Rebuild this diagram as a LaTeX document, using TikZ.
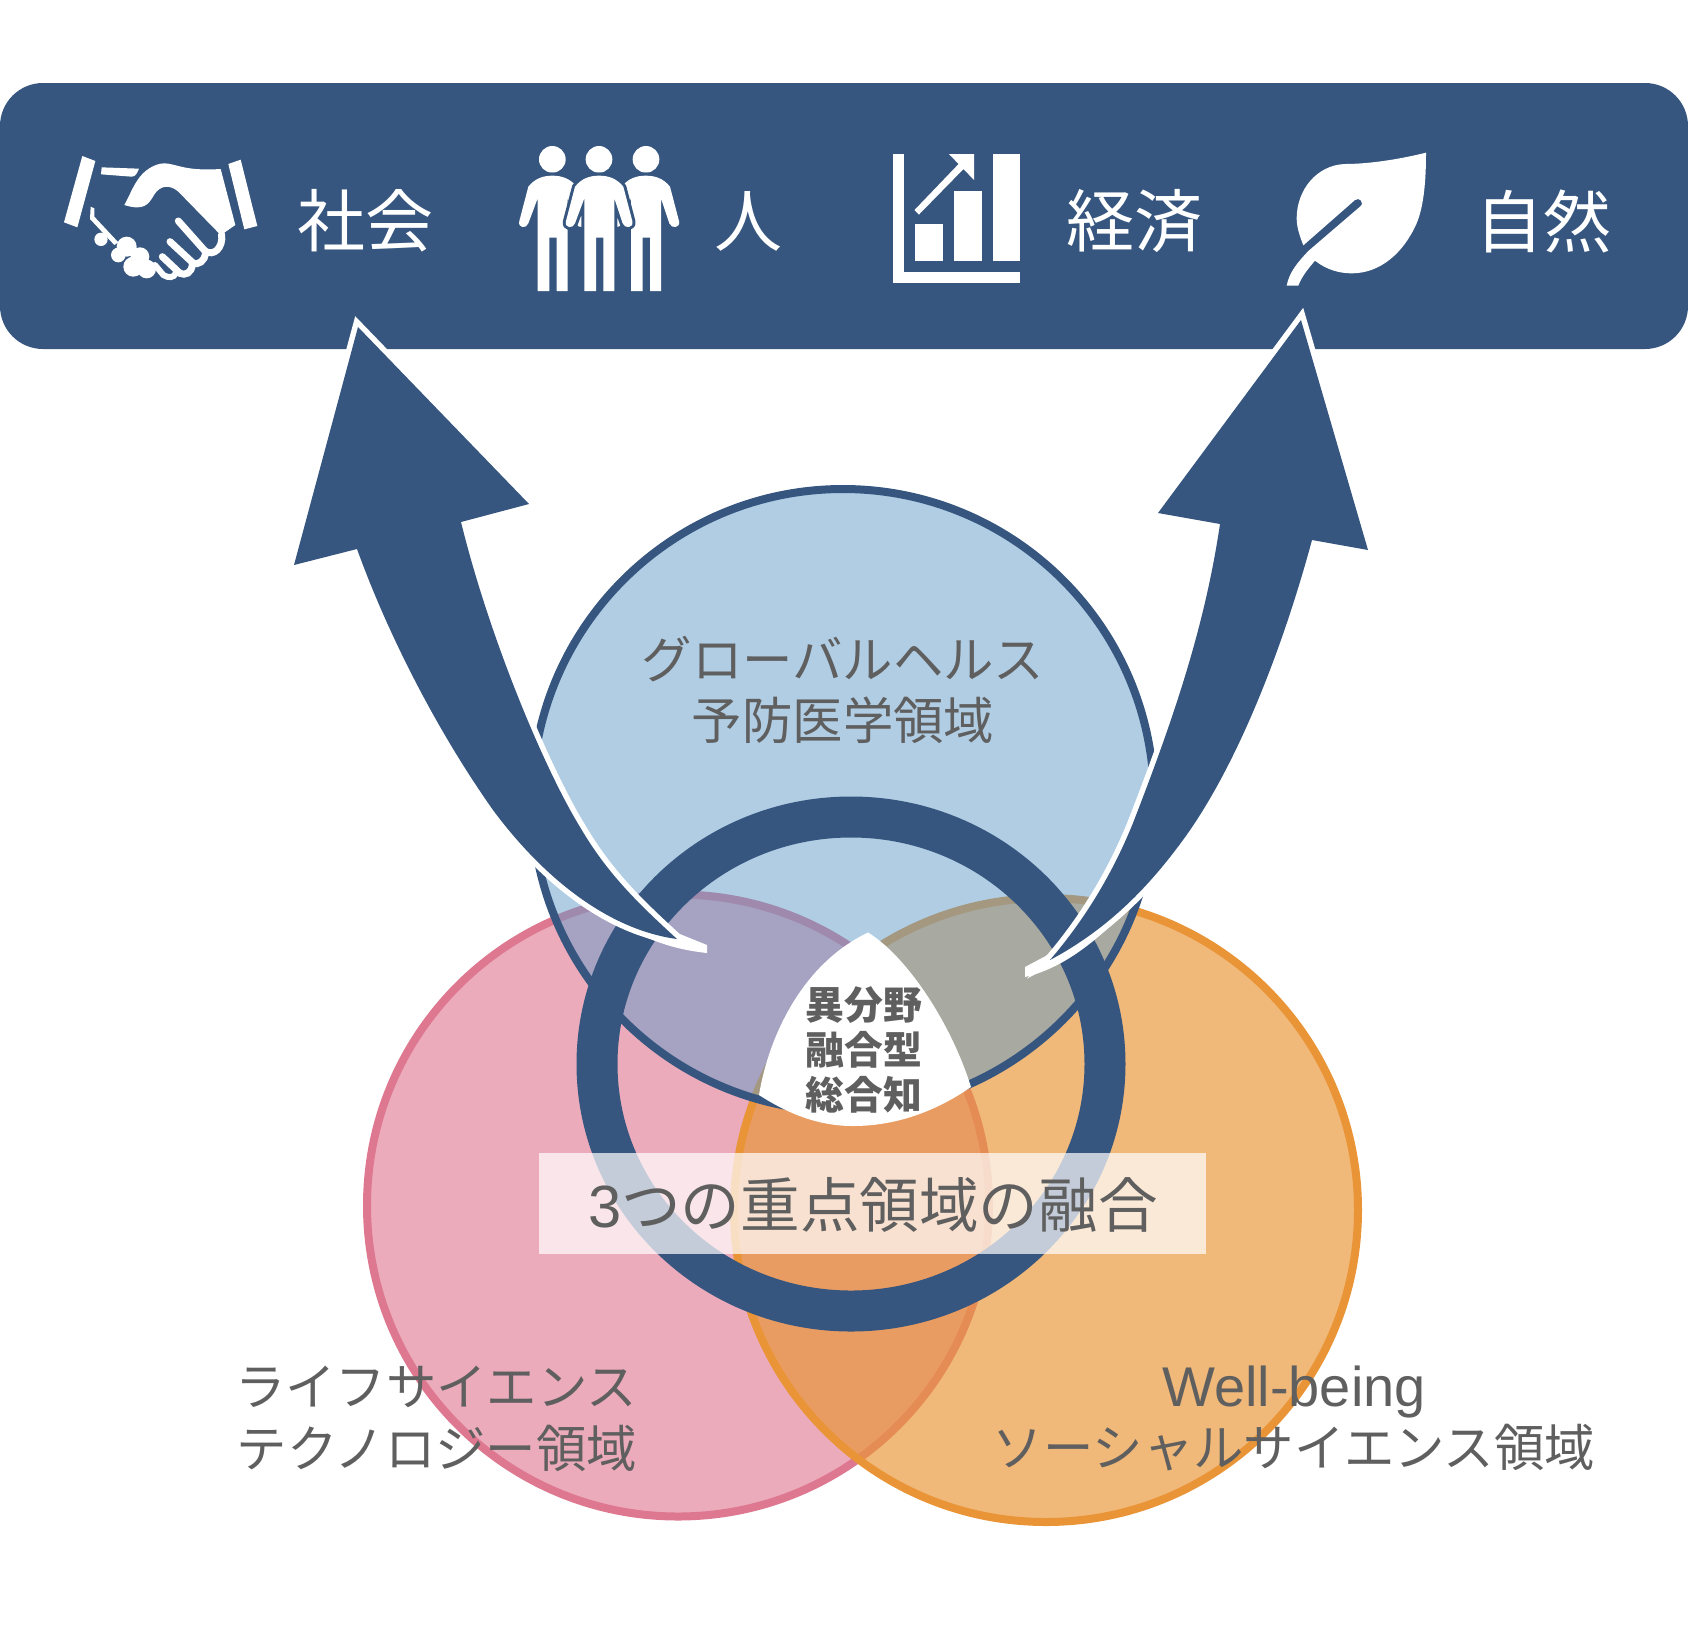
\documentclass[tikz,border=0pt]{standalone}
\usepackage{fontspec}
\usepackage{color}
\setmainfont{Noto Sans CJK JP}
\newfontfamily\latinfont{Liberation Sans}
\definecolor{bandblue}{HTML}{36567F}
\definecolor{areablue}{HTML}{619BC9}
\definecolor{pinkline}{HTML}{DE7890}
\definecolor{pinkfill}{HTML}{EBABBB}
\definecolor{orangeline}{HTML}{E99537}
\definecolor{textgray}{HTML}{5F5F5F}
\tikzset{
    bandtext/.style={text=white,inner sep=0pt,font=\fontsize{34pt}{36pt}\selectfont},
    areatext/.style={text=textgray,inner sep=0pt,font=\fontsize{25.2pt}{28pt}\selectfont},
    coretext/.style={text=textgray,inner sep=0pt,font=\fontsize{19.4pt}{22pt}\selectfont\bfseries},
    bigarrow/.style={fill=bandblue,preaction={draw=white,line width=5.5pt}},
    figure/.style={fill=white,preaction={draw=bandblue,line width=3pt,line join=round}},
}
\begin{document}
\begin{tikzpicture}[x=.5pt,y=-.5pt]
    \useasboundingbox (0,0) rectangle (1688,1635);

    \fill[bandblue,rounded corners=21.5pt] (0,83) rectangle (1688,349);

    \begin{scope}[shift={(55,145)},scale=1/3]
        \fill[white] (82,33) -- (121,48) -- (67,247) -- (27,232) -- cycle;
        \fill[white] (520,57) -- (557,44) -- (607,243) -- (568,253) -- cycle;
        \fill[white] (140,67) -- (252,71) .. controls (246,85) and (242,95) .. (230,95) -- (138,88) -- cycle;
        \fill[white] (208,180) .. controls (225,150) and (232,125) .. (255,95)
            .. controls (275,70) and (310,50) .. (340,56)
            .. controls (375,62) and (400,78) .. (497,72) -- (541,240) -- (505,265)
            -- (495,268) -- (370,140) .. controls (345,118) and (315,120) .. (297,150)
            .. controls (280,180) and (265,198) .. (208,180) -- cycle;
        \draw[white,line width=3.5pt,line cap=round] (370,228) -- (450,318)
            .. controls (475,335) and (505,310) .. (500,268);
        \draw[white,line width=3.5pt,line cap=round] (345,290) -- (412,352)
            .. controls (430,365) and (450,345) .. (452,325);
        \draw[white,line width=3.5pt,line cap=round] (322,335) -- (375,385)
            .. controls (390,392) and (410,385) .. (412,358);
        \draw[white,line width=3pt,line cap=round] (300,360) -- (325,390)
            .. controls (340,400) and (358,398) .. (362,385);
        \fill[white] (107,185) -- (118,190) -- (118,215) -- (190,292) -- (178,300) -- (105,222) -- cycle;
        \foreach \x/\y/\r in {138/283/20,215/305/30,190/330/22,255/335/28,235/365/30,275/372/28}
            \fill[white] (\x,\y) circle (\r);
    \end{scope}

    \begin{scope}[shift={(510,135)},scale=1/3]
        \foreach \x in {127,267,408} \fill[white] (\x,73) circle (40);
        \foreach \x in {-140,140,0}
            \path[figure,shift={(\x,0)}] (223,468) -- (223,190) -- (195,265)
                .. controls (190,282) and (162,280) .. (168,258) -- (195,155)
                .. controls (215,130) and (240,122) .. (267,122)
                .. controls (295,122) and (320,130) .. (340,155) -- (367,258)
                .. controls (372,280) and (344,282) .. (338,265) -- (313,190)
                -- (313,468) -- (280,468) -- (280,308) -- (258,308) -- (258,468) -- cycle;
    \end{scope}

    \fill[white] (893,154) rectangle (904,272);
    \fill[white] (893,272) rectangle (1020,283);
    \foreach \x/\y in {915/224,954/191,992.5/154} \fill[white] (\x,\y) rectangle (\x+27.5,261);
    \fill[white] (914.5,210) -- (958.6,164) -- (949,154) -- (974,154) -- (974,180) -- (963.5,169) -- (919,214.5) -- cycle;

    \begin{scope}[shift={(1270,140)},scale=1/3]
        \fill[white] (468,38) .. controls (380,60) and (290,72) .. (225,72)
            .. controls (140,75) and (80,150) .. (80,235)
            .. controls (80,265) and (92,295) .. (100,316) -- (255,180)
            .. controls (268,170) and (285,188) .. (270,200) -- (115,333)
            .. controls (85,365) and (58,395) .. (50,437) -- (85,437)
            .. controls (95,410) and (115,385) .. (135,362)
            .. controls (170,390) and (210,400) .. (245,400)
            .. controls (330,400) and (400,340) .. (440,250)
            .. controls (465,190) and (468,100) .. (468,38) -- cycle;
    \end{scope}

    \node[bandtext] (society) at (365,221) {社会};
    \node[bandtext] (people) at (748,221) {人};
    \node[bandtext] (economy) at (1134,221) {経済};
    \node[bandtext] (nature) at (1543,221) {自然};

    \draw[pinkline,fill=pinkfill,line width=4pt] (678,1205.5) circle (311);
    \draw[orangeline,line width=4pt,fill=orangeline,fill opacity=.67] (1046,1210) circle (312);
    \draw[bandblue,fill=areablue,fill opacity=.5,line width=4pt] (843,800) circle (311);

    \fill[white] (868,932.5) .. controls (905,955) and (950,1020) .. (971,1087)
        .. controls (935,1112) and (895,1126) .. (853,1126)
        .. controls (820,1126) and (790,1115) .. (759,1095)
        .. controls (768,1040) and (800,965) .. (868,932.5) -- cycle;

    \draw[bandblue,line width=20.5pt] (851,1064) ellipse (254 and 247);

    \fill[white] (670,930) -- (707,945) -- (707,953) .. controls (670,949) and (640,938) .. (600,912) -- cycle;
    \path[bigarrow] (358,327) -- (529,504) -- (461,522)
        .. controls (490,640) and (545,770) .. (580,827)
        .. controls (608,875) and (640,905) .. (677,939)
        .. controls (610,930) and (545,880) .. (493,810)
        .. controls (440,735) and (390,640) .. (357,549)
        -- (294,565) -- cycle;

    \fill[white] (1057,950) -- (1025,967) -- (1025,977) .. controls (1055,970) and (1085,952) .. (1125,912) -- cycle;
    \path[bigarrow] (1301,320) -- (1368,550) -- (1312,540)
        .. controls (1285,640) and (1240,762) .. (1183,840)
        .. controls (1150,885) and (1110,928) .. (1050,960)
        .. controls (1080,925) and (1110,880) .. (1133,823)
        .. controls (1175,715) and (1205,625) .. (1220,524)
        -- (1158,513) -- cycle;

    \fill[white,opacity=.7] (539,1153) rectangle (1206,1254);

    \node[areatext] (global1) at (843,659) {グローバルヘルス};
    \node[areatext] (global2) at (843,720) {予防医学領域};
    \node[areatext] (life1) at (436,1387) {ライフサイエンス};
    \node[areatext] (life2) at (437,1448) {テクノロジー領域};
    \node[areatext,font=\fontsize{28pt}{30pt}\selectfont\latinfont] (social1) at (1294,1392) {Well-being};
    \node[areatext] (social2) at (1294,1448) {ソーシャルサイエンス領域};
    \node[coretext] (core1) at (864,1005) {異分野};
    \node[coretext] (core2) at (864,1050) {融合型};
    \node[coretext] (core3) at (864,1095) {総合知};
    \node[text=textgray,inner sep=0pt,font=\fontsize{29.8pt}{32pt}\selectfont] (fusion) at (873,1205) {{\latinfont 3}つの重点領域の融合};
\end{tikzpicture}
\end{document}
